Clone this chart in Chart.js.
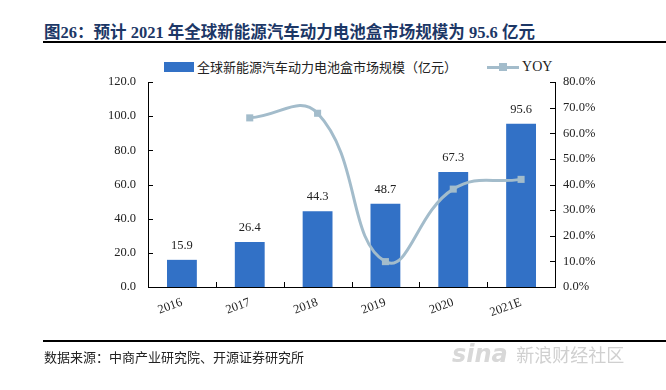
<!DOCTYPE html>
<html>
<head>
<meta charset="utf-8">
<script src="https://cdn.jsdelivr.net/npm/chart.js@4"></script>
<style>
  body { margin: 0; background: #fff; width: 666px; height: 390px; position: relative; overflow: hidden; }
  #title { position: absolute; left: 44px; top: 19px; font: bold 16.5px "Liberation Serif", "Noto Sans CJK SC", serif; color: #1c3766; white-space: nowrap; }
  #title .cn { font-family: "Noto Sans CJK SC", sans-serif; font-weight: bold; }
  .rule { position: absolute; left: 43px; right: 0; height: 1.5px; background: #000; }
  #legend { position: absolute; top: 57px; left: 164px; font: 13px "Noto Sans CJK SC", sans-serif; color: #222; white-space: nowrap; display: flex; align-items: center; }
  .swatch { display: inline-block; width: 30px; height: 10px; background: #3271c6; margin-right: 3px; }
  .lineSw { display: inline-block; position: relative; width: 32px; height: 10px; margin-left: 30px; margin-right: 3px; }
  .lineSw::before { content: ""; position: absolute; left: 0; right: 0; top: 4px; height: 3px; background: #a3bccb; }
  .lineSw::after { content: ""; position: absolute; left: 12px; top: 1px; width: 8px; height: 8px; background: #a3bccb; }
  #legend .en { font-family: "Liberation Serif", serif; font-size: 14px; }
  #source { position: absolute; left: 44px; top: 347px; font: 13px "Noto Sans CJK SC", sans-serif; color: #222; white-space: nowrap; }
  #mark { position: absolute; left: 452px; top: 340px; font: bold 24px "DejaVu Sans", sans-serif; color: #d8d8d8; white-space: nowrap; font-style: italic; }
  #mark span { font: 18px "Noto Sans CJK SC", sans-serif; font-style: normal; color: #d0d0d0; }
  canvas { position: absolute; left: 0; top: 0; }
</style>
</head>
<body>
<div id="title">图26：<span class="cn">预计</span> 2021 <span class="cn">年全球新能源汽车动力电池盒市场规模为</span> 95.6 <span class="cn">亿元</span></div>
<div class="rule" style="top:41px"></div>
<div id="legend"><span class="swatch"></span>全球新能源汽车动力电池盒市场规模（亿元）<span class="lineSw"></span><span class="en">YOY</span></div>
<canvas id="chart" width="666" height="390"></canvas>
<div class="rule" style="top:340px"></div>
<div id="source">数据来源：中商产业研究院、开源证券研究所</div>
<div id="mark">sina <span>新浪财经社区</span></div>
<script>
const years = ['2016', '2017', '2018', '2019', '2020', '2021E'];
const marketSize = [15.9, 26.4, 44.3, 48.7, 67.3, 95.6];
const yoy = [null, 66.0, 67.8, 9.9, 38.2, 42.0];
const leftTicks = [0, 20, 40, 60, 80, 100, 120];
const rightTicks = [0, 10, 20, 30, 40, 50, 60, 70, 80];

const ctx = document.getElementById('chart').getContext('2d');

const serif = { family: '"Liberation Serif", "Times New Roman", serif', size: 12.5 };

// value labels above bars + inward tick marks
const extras = {
    id: 'extras',
    afterDatasetsDraw(chart) {
        const c = chart.ctx;
        const meta = chart.getDatasetMeta(1);
        c.save();
        c.font = '12.5px "Liberation Serif", serif';
        c.fillStyle = '#222';
        c.textAlign = 'center';
        c.textBaseline = 'bottom';
        meta.data.forEach((bar, i) => {
            c.fillText(marketSize[i].toFixed(1), bar.x, bar.y - 8);
        });
        const a = chart.chartArea;
        const yL = chart.scales.y, yR = chart.scales.y1;
        c.strokeStyle = '#000';
        c.lineWidth = 1;
        c.beginPath();
        leftTicks.forEach(v => {
            const py = Math.round(yL.getPixelForValue(v)) + 0.5;
            c.moveTo(a.left, py); c.lineTo(a.left + 5, py);
        });
        rightTicks.forEach(v => {
            const py = Math.round(yR.getPixelForValue(v)) + 0.5;
            c.moveTo(a.right, py); c.lineTo(a.right - 5, py);
        });
        for (let i = 0; i <= years.length; i++) {
            const px = Math.round(a.left + (a.right - a.left) * i / years.length) + 0.5;
            c.moveTo(px, a.bottom); c.lineTo(px, a.bottom - 5);
        }
        c.stroke();
        c.restore();
    }
};

new Chart(ctx, {
    data: {
        labels: years,
        datasets: [
            {
                type: 'line',
                label: 'YOY',
                data: yoy,
                yAxisID: 'y1',
                borderColor: '#a3bccb',
                backgroundColor: '#a3bccb',
                borderWidth: 3,
                tension: 0.45,
                pointStyle: 'rect',
                pointRadius: 5,
                pointBorderWidth: 0,
                order: 0
            },
            {
                type: 'bar',
                label: '全球新能源汽车动力电池盒市场规模（亿元）',
                data: marketSize,
                yAxisID: 'y',
                backgroundColor: '#3271c6',
                barPercentage: 0.88,
                categoryPercentage: 0.5,
                order: 1
            }
        ]
    },
    options: {
        responsive: false,
        animation: false,
        layout: { padding: { top: 82 } },
        plugins: { legend: { display: false }, tooltip: { enabled: false } },
        scales: {
            x: {
                grid: { display: false, drawTicks: false },
                border: { color: '#000', width: 1 },
                ticks: { font: serif, color: '#222', minRotation: 20, maxRotation: 20, padding: 8 },
                afterFit: s => { s.height = 390 - 287; }
            },
            y: {
                position: 'left',
                min: 0, max: 120,
                afterBuildTicks: s => { s.ticks = leftTicks.map(v => ({ value: v })); },
                grid: { display: false, drawTicks: false },
                border: { color: '#000', width: 1 },
                ticks: { font: serif, color: '#222', padding: 12, callback: v => v.toFixed(1) },
                afterFit: s => { s.width = 148; }
            },
            y1: {
                position: 'right',
                min: 0, max: 80,
                afterBuildTicks: s => { s.ticks = rightTicks.map(v => ({ value: v })); },
                grid: { display: false, drawTicks: false },
                border: { color: '#000', width: 1 },
                ticks: { font: serif, color: '#222', padding: 8, callback: v => v.toFixed(1) + '%' },
                afterFit: s => { s.width = 666 - 555; }
            }
        }
    },
    plugins: [extras]
});
</script>
</body>
</html>
